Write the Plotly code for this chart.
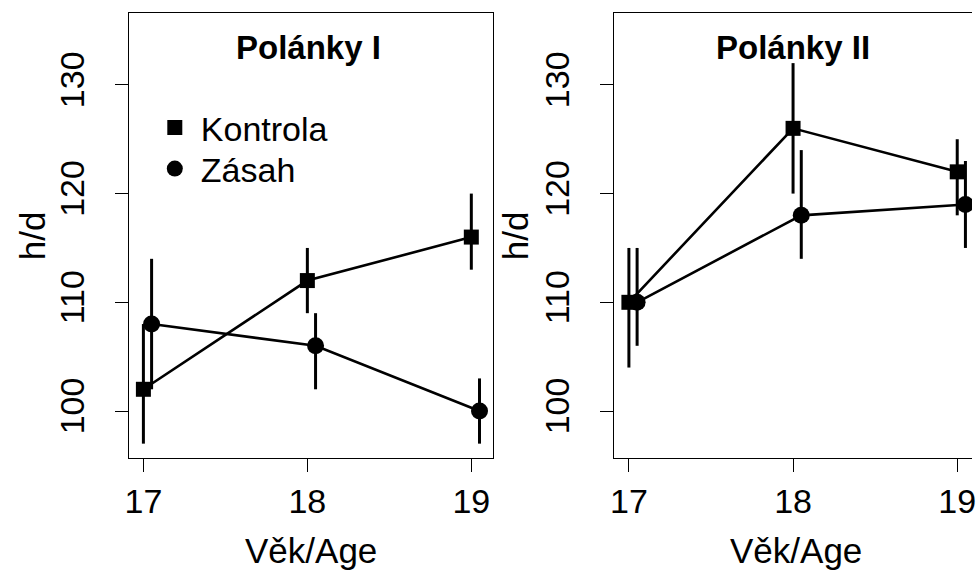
import plotly.graph_objects as go

# ---- data ----
ages = [17, 18, 19]
offset_zasah = 0.05

# Polánky I
p1_kontrola = [102, 112, 116]
p1_kontrola_lo = [97, 109, 113]
p1_kontrola_hi = [108, 115, 120]
p1_zasah = [108, 106, 100]
p1_zasah_lo = [102, 102, 97]
p1_zasah_hi = [114, 109, 103]

# Polánky II
p2_kontrola = [110, 126, 122]
p2_kontrola_lo = [104, 120, 118]
p2_kontrola_hi = [115, 132, 125]
p2_zasah = [110, 118, 119]
p2_zasah_lo = [106, 114, 115]
p2_zasah_hi = [115, 124, 123]

titles = ["Polánky I", "Polánky II"]
series_names = ["Kontrola", "Zásah"]
x_label = "Věk/Age"
y_label = "h/d"
y_ticks = [100, 110, 120, 130]
x_ticks = [17, 18, 19]

FONT = "Liberation Sans, Arial, Helvetica, sans-serif"
W, H = 976, 572

fig = go.Figure()

panels = [
    (p1_kontrola, p1_kontrola_lo, p1_kontrola_hi, p1_zasah, p1_zasah_lo, p1_zasah_hi),
    (p2_kontrola, p2_kontrola_lo, p2_kontrola_hi, p2_zasah, p2_zasah_lo, p2_zasah_hi),
]

for i, (k, klo, khi, z, zlo, zhi) in enumerate(panels):
    xa = "x" if i == 0 else "x2"
    ya = "y" if i == 0 else "y2"
    xz = [a + offset_zasah for a in ages]
    # connecting lines
    for xs, ys in [(ages, k), (xz, z)]:
        fig.add_trace(go.Scatter(x=xs, y=ys, mode="lines", xaxis=xa, yaxis=ya,
                                 line=dict(color="black", width=2.6),
                                 showlegend=False, hoverinfo="skip"))
    # markers + error bars
    for xs, ys, lo, hi, sym, size, name, leg in [
        (ages, k, klo, khi, "square", 15, series_names[0], "legend"),
        (xz, z, zlo, zhi, "circle", 17, series_names[1], "legend2"),
    ]:
        fig.add_trace(go.Scatter(
            x=xs, y=ys, mode="markers", xaxis=xa, yaxis=ya, name=name, legend=leg,
            marker=dict(symbol=sym, size=size, color="black", line=dict(width=0)),
            error_y=dict(type="data", symmetric=False,
                         array=[h - v for h, v in zip(hi, ys)],
                         arrayminus=[v - l for l, v in zip(lo, ys)],
                         thickness=3, width=0, color="black"),
            showlegend=(i == 0),
        ))

# pixel geometry
L1, R1 = 126, 493
L2 = 615
TOP, BOT = 13, 458
yrange = [95.68, 136.61]

def px(x):
    return x / W

def py(y):
    return 1 - y / H

axis_common = dict(showgrid=False, zeroline=False, showline=True, linecolor="black",
                   linewidth=1.2, ticks="outside", ticklen=13, tickwidth=1.2,
                   tickcolor="black", ticklabeloverflow="allow",
                   tickfont=dict(family=FONT, size=34, color="black"))

leg_common = dict(xanchor="left", yanchor="middle", bgcolor="rgba(0,0,0,0)",
                  font=dict(family=FONT, size=34, color="black"),
                  itemsizing="trace", itemwidth=42)

fig.update_layout(
    width=W, height=H,
    margin=dict(l=0, r=0, t=0, b=0),
    paper_bgcolor="white", plot_bgcolor="white",
    font=dict(family=FONT, color="black"),
    xaxis=dict(domain=[px(L1), px(R1)], range=[16.912, 19.132], tickvals=x_ticks,
               mirror=True, anchor="y", ticklabelstandoff=0, **axis_common),
    yaxis=dict(domain=[py(BOT), py(TOP)], range=yrange, tickvals=y_ticks,
               mirror=True, anchor="x", tickangle=-90, ticklabelstandoff=17, **axis_common),
    xaxis2=dict(domain=[px(L2), 1.0], range=[16.909, 19.09], tickvals=x_ticks,
                mirror=True, anchor="y2", ticklabelstandoff=0, **axis_common),
    yaxis2=dict(domain=[py(BOT), py(TOP)], range=yrange, tickvals=y_ticks,
                mirror=False, anchor="x2", tickangle=-90, ticklabelstandoff=17, **axis_common),
    legend=dict(x=px(146), y=py(128), **leg_common),
    legend2=dict(x=px(146), y=py(169), **leg_common),
    showlegend=True,
)

annotations = [
    dict(text="<b>%s</b>" % titles[0], x=px(307), y=py(47)),
    dict(text="<b>%s</b>" % titles[1], x=px(796), y=py(47)),
]
for a in annotations:
    a.update(xref="paper", yref="paper", showarrow=False, xanchor="center", yanchor="middle",
             font=dict(family=FONT, size=33, color="black"))
for cx in [(L1 + R1) / 2, L2 + (R1 - L1) / 2]:
    annotations.append(dict(text=x_label, x=px(cx), y=py(550), xref="paper", yref="paper",
                            showarrow=False, xanchor="center", yanchor="middle",
                            font=dict(family=FONT, size=35, color="black")))
for cx in [29, 516]:
    annotations.append(dict(text=y_label, x=px(cx), y=py((TOP + BOT) / 2), xref="paper",
                            yref="paper", showarrow=False, xanchor="center", yanchor="middle",
                            textangle=-90, font=dict(family=FONT, size=35, color="black")))
fig.update_layout(annotations=annotations)

fig.write_html("out.html", config={"displayModeBar": False},
               post_script="document.body.style.margin='0';document.body.style.overflow='hidden';")
